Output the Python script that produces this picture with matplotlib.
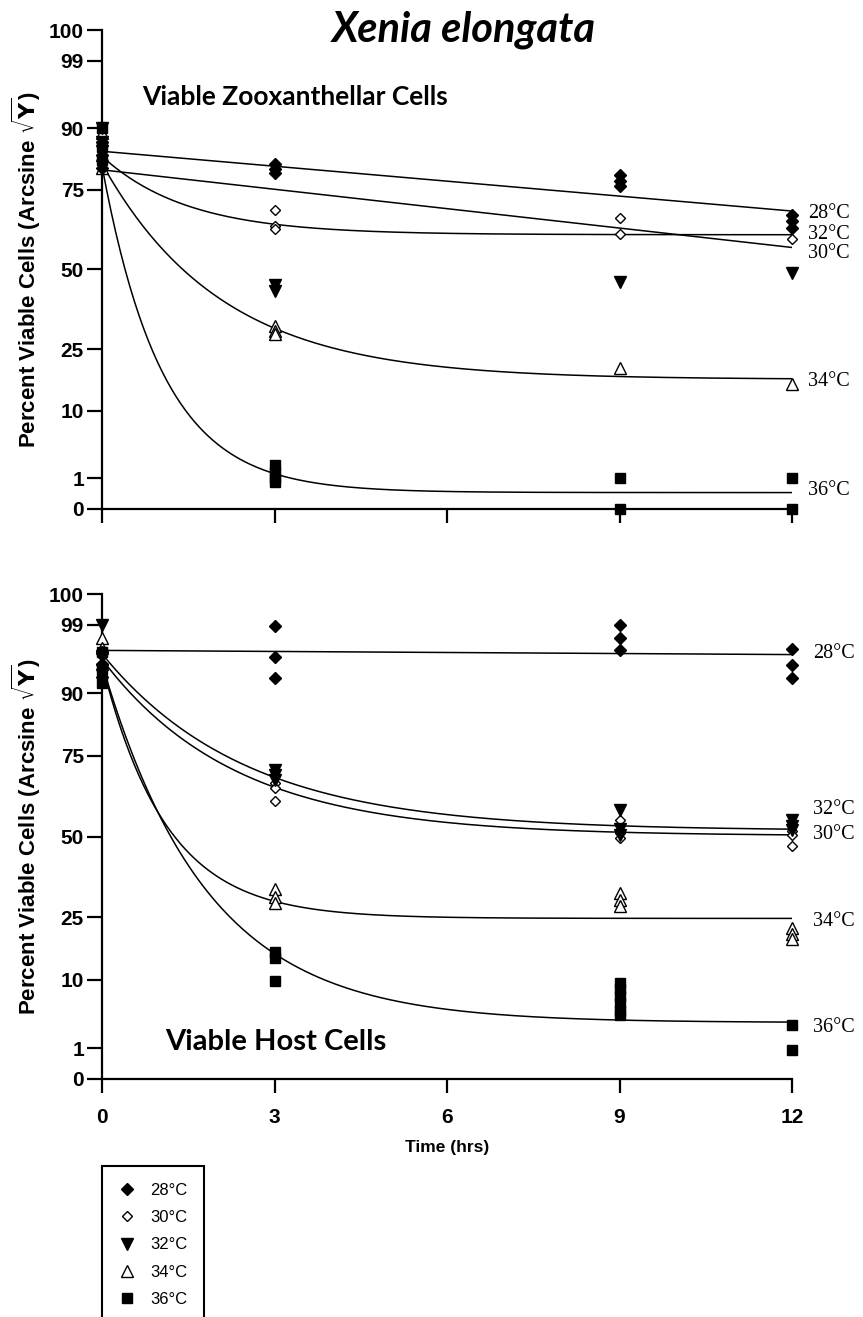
import numpy as np
import matplotlib
matplotlib.use("Agg")
import matplotlib.pyplot as plt

# sampling times (hrs) and temperature groups
times = [0, 3, 9, 12]
temps = ['28°C', '30°C', '32°C', '34°C', '36°C']

# ---- top panel: viable zooxanthellar cells (%), replicates at each time
zoo_28 = [[87, 84, 81], [82, 80.5, 79.5], [79, 77.5, 76], [67.5, 65.5, 63.5]]
zoo_30 = [[86, 84, 82], [69, 64, 63], [66.5, 61.5], [60]]
zoo_32 = [[90, 87, 85], [45, 43], [46], [49]]
zoo_34 = [[89, 84, 81], [32, 30.5, 29.5], [20], [16]]
zoo_36 = [[90, 86, 83], [2.1, 1.5, 1.0, 0.8], [1.0, 0], [1.0, 0]]

# ---- bottom panel: viable host cells (%)
host_28 = [[96.5, 95, 93], [98.9, 95.9, 92.8], [99, 98, 96.8], [96.9, 94.8, 92.7]]
host_30 = [[96, 94.5, 93], [67, 65.5, 61.3], [55.4, 51, 49.5], [51.7, 50.5, 46.9]]
host_32 = [[99, 96, 94], [71, 69.5, 68], [58.7, 52.5, 50.5], [55.4, 53.5, 52]]
host_34 = [[98, 97, 95], [33.3, 31, 29], [32, 30, 28.2], [22, 20.5, 19.3]]
host_36 = [[96.5, 94, 92], [16, 14.5, 9.8], [9.4, 8.2, 7.0, 5.9, 4.8, 4.2], [3.0, 0.9]]

# fitted curves (percent): start value, end/plateau value, rate (0 = straight line)
zoo_fit_start = [85.0, 83.8, 80.4, 82.0, 81.4]
zoo_fit_end = [68.7, 61.3, 57.2, 17.0, 0.29]
zoo_fit_rate = [0, 0.67, 0, 0.48, 0.95]

host_fit_start = [96.7, 95.6, 96.3, 95.0, 95.0]
host_fit_end = [96.2, 50.2, 51.9, 24.7, 3.3]
host_fit_rate = [0, 0.43, 0.40, 0.9, 0.55]

yticks = [0, 1, 10, 25, 50, 75, 90, 99, 100]
xticks = [0, 3, 6, 9, 12]


def fwd(p):
    return np.degrees(np.arcsin(np.sqrt(np.clip(p, 0, 100) / 100.0)))


def inv(a):
    return 100 * np.sin(np.radians(np.clip(a, 0, 90))) ** 2


styles = {
    '28°C': dict(marker='D', mfc='black', mec='black', ms=6),
    '30°C': dict(marker='D', mfc='white', mec='black', ms=5, mew=1),
    '32°C': dict(marker='v', mfc='black', mec='black', ms=8.5),
    '34°C': dict(marker='^', mfc='white', mec='black', ms=8.5, mew=1),
    '36°C': dict(marker='s', mfc='black', mec='black', ms=7.5),
}
draw_order = [1, 3, 0, 2, 4]

W, H = 863, 1317
fig = plt.figure(figsize=(W / 100, H / 100), dpi=100)
ax1 = fig.add_axes([102 / W, 1 - 509 / H, 690 / W, 479 / H])
ax2 = fig.add_axes([102 / W, 1 - 1079 / H, 690 / W, 485 / H])

tick_font = dict(family='Liberation Sans', weight='bold', size=15)
t_fine = np.linspace(0, 12, 300)

panels = [
    (ax1, [zoo_28, zoo_30, zoo_32, zoo_34, zoo_36], zoo_fit_start, zoo_fit_end, zoo_fit_rate),
    (ax2, [host_28, host_30, host_32, host_34, host_36], host_fit_start, host_fit_end, host_fit_rate),
]

handles = {}
for ax, series, f_start, f_end, f_rate in panels:
    ax.set_yscale('function', functions=(fwd, inv))
    ax.set_xlim(0, 12)
    ax.set_ylim(0, 100)
    # fitted curves, computed in arcsine space
    for i in range(5):
        a0, a1 = fwd(f_start[i]), fwd(f_end[i])
        if f_rate[i] == 0:
            ang = a0 + (a1 - a0) * t_fine / 12
        else:
            ang = a1 + (a0 - a1) * np.exp(-f_rate[i] * t_fine)
        ax.plot(t_fine, inv(ang), color='black', lw=1.1, zorder=2)
    # replicate points
    for i in draw_order:
        xs, ys = [], []
        for t, vals in zip(times, series[i]):
            xs += [t] * len(vals)
            ys += vals
        h, = ax.plot(xs, ys, ls='none', clip_on=False, zorder=3, **styles[temps[i]])
        handles[temps[i]] = h

    for s in ['top', 'right']:
        ax.spines[s].set_visible(False)
    for s in ['left', 'bottom']:
        ax.spines[s].set_linewidth(1.6)
    ax.set_yticks(yticks)
    ax.set_yticklabels([str(v) for v in yticks], fontdict=tick_font)
    ax.set_xticks(xticks)
    ax.yaxis.set_minor_locator(matplotlib.ticker.NullLocator())
    ax.tick_params(axis='y', length=11, width=1.6, pad=2)
    ax.tick_params(axis='x', length=10, width=1.6, pad=11)
    ax.set_ylabel(r'Percent Viable Cells (Arcsine $\sqrt{\mathbf{Y}}$)',
                  family='Liberation Sans', weight='bold', size=16, labelpad=4)

ax1.set_xticklabels([])
ax2.set_xticklabels([str(v) for v in xticks], fontdict=tick_font)
ax2.set_xlabel('Time (hrs)', family='Liberation Sans', weight='bold', size=12.5, labelpad=9)

# titles
ax1.text(4.0, 100, 'Xenia elongata', family='Lato', weight='bold', style='italic',
         size=30, va='center', ha='left', clip_on=False)
ax1.text(0.69, 95.3, 'Viable Zooxanthellar Cells', family='Lato', weight='bold',
         size=19, va='center', ha='left')
ax2.text(1.1, 1.4, 'Viable Host Cells', family='Lato', weight='bold',
         size=21, va='center', ha='left')

# curve labels on the right
lab_font = dict(family='Liberation Serif', size=14.5, va='center', ha='left', clip_on=False)
for txt, y in [('28°C', 67.9), ('32°C', 61.5), ('30°C', 55.1), ('34°C', 16.5), ('36°C', 0.35)]:
    ax1.text(12.28, y, txt, **lab_font)
for txt, y in [('28°C', 96.3), ('32°C', 58.7), ('30°C', 50.5), ('34°C', 23.8), ('36°C', 2.8)]:
    ax2.text(12.37, y, txt, **lab_font)

# legend box (runs off the bottom of the page like the original)
leg = fig.legend([handles[t] for t in temps], temps, loc='upper left',
                 bbox_to_anchor=(102 / W, 1 - 1166 / H), bbox_transform=fig.transFigure,
                 frameon=True, fancybox=False, edgecolor='black', framealpha=1,
                 prop=dict(family='Liberation Sans', size=12), handlelength=1.0,
                 handletextpad=0.9, labelspacing=0.74, borderpad=1.0, borderaxespad=0)
leg.get_frame().set_linewidth(1.5)

fig.savefig('out.png', dpi=100)
